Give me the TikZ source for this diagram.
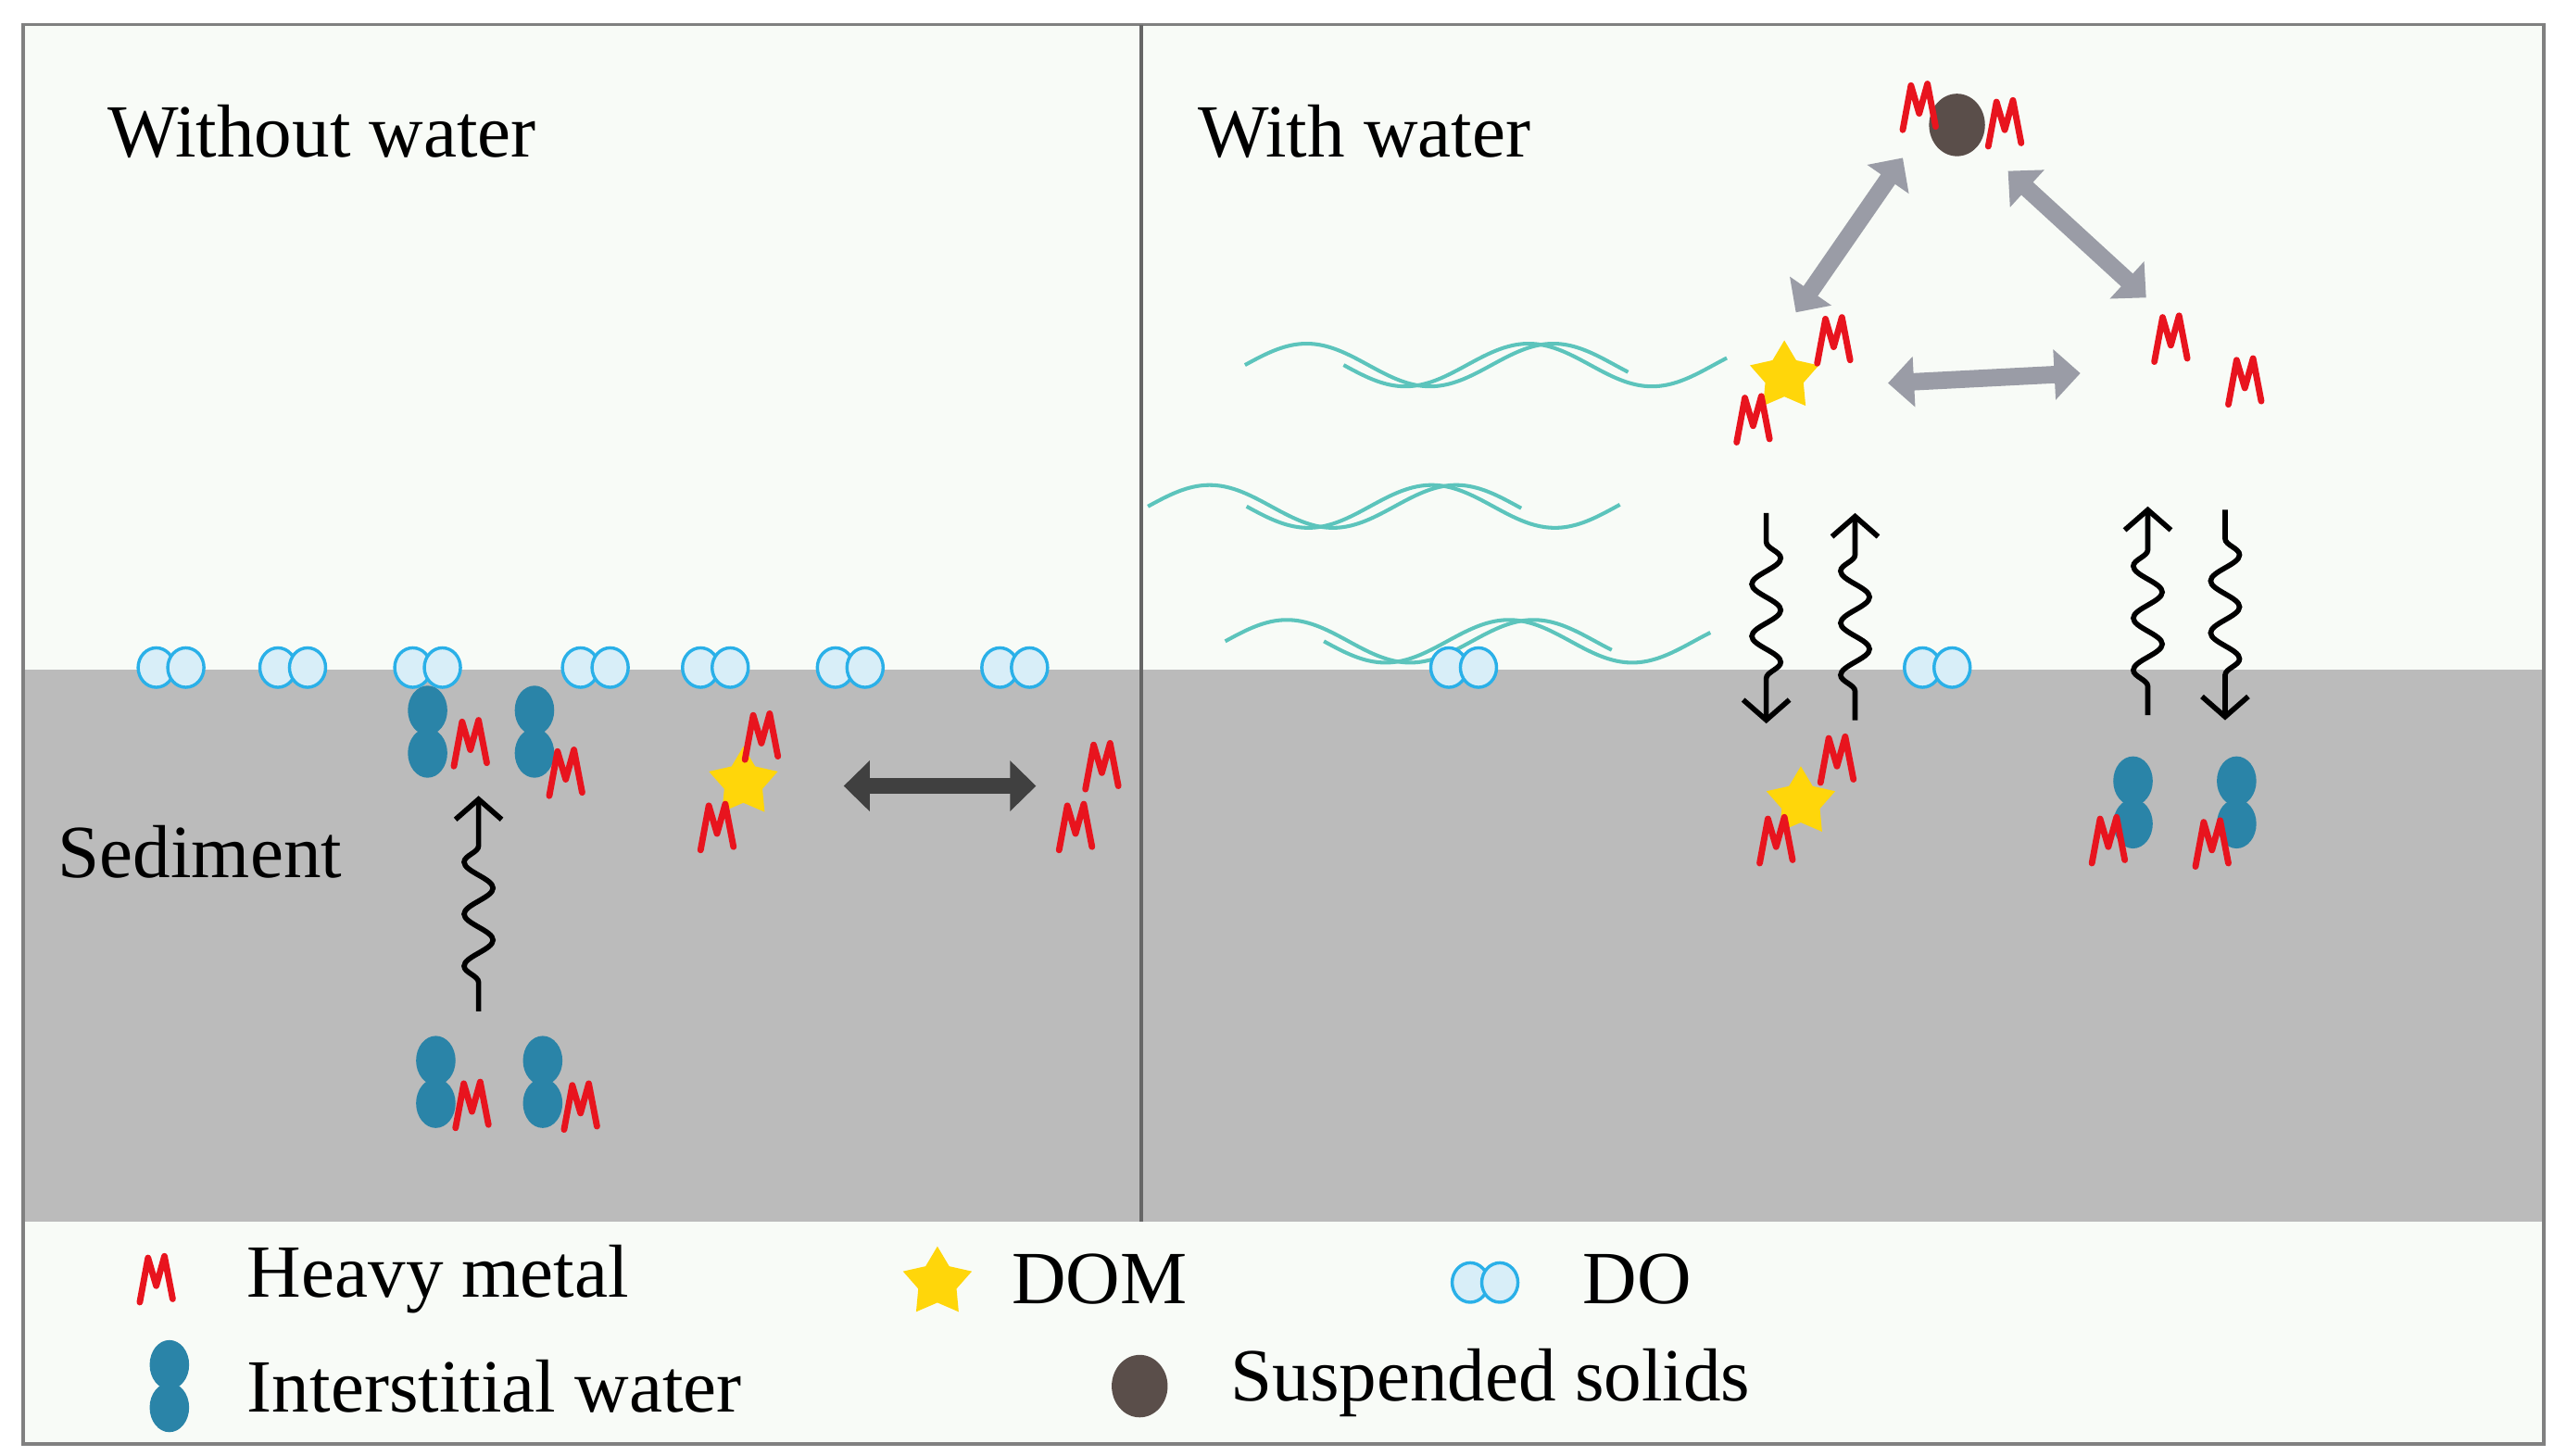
\documentclass[tikz,border=0pt]{standalone}
\usepackage{fontspec}
\setmainfont{Liberation Serif}
\usetikzlibrary{shapes.geometric,arrows.meta,decorations.pathmorphing}
\definecolor{bgc}{HTML}{F8FBF7}
\definecolor{sed}{HTML}{BBBBBB}
\definecolor{mred}{HTML}{E8141E}
\definecolor{iw}{HTML}{2A84A8}
\definecolor{dof}{HTML}{D8EEF8}
\definecolor{dod}{HTML}{2AB0E8}
\definecolor{domc}{HTML}{FFD60A}
\definecolor{ssc}{HTML}{5A4E4A}
\definecolor{garr}{HTML}{9A9CA6}
\definecolor{darr}{HTML}{404040}
\definecolor{wave}{HTML}{5CC4BC}
\tikzset{
  x=0.02cm,y=-0.02cm,
  lbl/.style={font=\fontsize{26}{30}\selectfont,anchor=west,inner sep=0},
  metal/.pic={\draw[mred,line width=2.2pt,line join=round,line cap=round]
     (-10,14)--(-5,-13)--(0,4)--(5,-14)--(10,12);},
  iwater/.pic={\fill[iw] (0,-13) ellipse [x radius=12,y radius=15];
     \fill[iw] (0,13) ellipse [x radius=12,y radius=15];},
  dopair/.pic={\draw[dod,fill=dof,line width=1.1pt] (-9,0) ellipse [x radius=11,y radius=12];
     \draw[dod,fill=dof,line width=1.1pt] (9,0) ellipse [x radius=11,y radius=12];},
  dom/.pic={\node[star,star points=5,star point ratio=1.8,fill=domc,minimum size=44*0.02cm,inner sep=0]{};},
  solid/.pic={\fill[ssc] (0,0) ellipse [x radius=17,y radius=19];},
  garrow/.style={garr,line width=6pt,{Triangle[length=9pt,width=17pt]}-{Triangle[length=9pt,width=17pt]}},
  darrow/.style={darr,line width=5.5pt,{Triangle[length=9pt,width=17pt]}-{Triangle[length=9pt,width=17pt]}},
  wavy/.style={black,line width=1.8pt,-{Straight Barb[length=7pt,width=16pt]},
     decorate,decoration={snake,amplitude=5pt,segment length=18pt,pre length=10pt,post length=12pt}},
  wv/.style={wave,line width=1.3pt},
}
\begin{document}
\begin{tikzpicture}
\useasboundingbox (0,0) rectangle (1553,885);
\fill[white] (0,0) rectangle (1553,885);
\fill[bgc] (14,15) rectangle (1547,878);
\fill[sed] (14,407) rectangle (1547,743);
\draw[gray,line width=1.2pt] (14,15) rectangle (1547,878);
\draw[gray!80!black,line width=1.2pt] (694,15) -- (694,743);
% titles
\node[lbl] (t1) at (65,80) {Without water};
\node[lbl] (t2) at (728,80) {With water};
\node[lbl] (t3) at (35,518) {Sediment};
% waves
\foreach \yy/\xa/\xb in {222/757/1050, 308/698/985, 390/745/1040}{
  \draw[wv] plot[domain=0:\xb-\xa-60,samples=80,smooth] ({\xa+\x},{\yy-13*sin(2.4*\x)});
  \draw[wv] plot[domain=0:\xb-\xa-60,samples=80,smooth] ({\xa+60+\x},{\yy+13*sin(2.4*\x)});
}
% DO pairs
\foreach \x in {104,178,260,362,435,517,617,890,1178}{\pic at (\x,406) {dopair};}
% left panel
\pic at (260,445) {iwater}; \pic at (286,452) {metal};
\pic at (325,445) {iwater}; \pic at (344,470) {metal};
\pic at (265,658) {iwater}; \pic at (287,672) {metal};
\pic at (330,658) {iwater}; \pic at (353,673) {metal};
\coordinate (la) at (291,615); \coordinate (lb) at (291,484);
\draw[wavy] (la) -- (lb);
\pic at (452,476) {dom}; \pic at (463,448) {metal}; \pic at (436,503) {metal};
\coordinate (d1) at (513,478); \coordinate (d2) at (630,478);
\draw[darrow] (d1) -- (d2);
\pic at (670,466) {metal}; \pic at (654,503) {metal};
% right panel top
\pic at (1190,76) {solid}; \pic at (1167,65) {metal}; \pic at (1219,75) {metal};
\coordinate (g1) at (1157,96); \coordinate (g2) at (1092,190);
\coordinate (g3) at (1221,104); \coordinate (g4) at (1305,181);
\coordinate (g5) at (1148,233); \coordinate (g6) at (1265,227);
\draw[garrow] (g1) -- (g2); \draw[garrow] (g3) -- (g4); \draw[garrow] (g5) -- (g6);
\pic at (1085,229) {dom}; \pic at (1115,207) {metal}; \pic at (1066,255) {metal};
\pic at (1320,206) {metal}; \pic at (1365,232) {metal};
% vertical wavy arrows
\coordinate (w1a) at (1074,312); \coordinate (w1b) at (1074,440);
\coordinate (w2a) at (1128,438); \coordinate (w2b) at (1128,312);
\coordinate (w3a) at (1306,435); \coordinate (w3b) at (1306,308);
\coordinate (w4a) at (1353,310); \coordinate (w4b) at (1353,438);
\draw[wavy] (w1a) -- (w1b); \draw[wavy] (w2a) -- (w2b);
\draw[wavy] (w3a) -- (w3b); \draw[wavy] (w4a) -- (w4b);
% right sediment
\pic at (1095,488) {dom}; \pic at (1117,462) {metal}; \pic at (1080,511) {metal};
\pic at (1297,488) {iwater}; \pic at (1282,511) {metal};
\pic at (1360,488) {iwater}; \pic at (1345,513) {metal};
% legend
\pic at (95,778) {metal}; \node[lbl] (l1) at (150,778) {Heavy metal};
\pic at (570,780) {dom}; \node[lbl] (l2) at (615,778) {DOM};
\pic at (903,780) {dopair}; \node[lbl] (l3) at (962,778) {DO};
\pic at (103,843) {iwater}; \node[lbl] (l4) at (150,843) {Interstitial water};
\pic at (693,843) {solid}; \node[lbl] (l5) at (748,841) {Suspended solids};
\end{tikzpicture}
\end{document}
